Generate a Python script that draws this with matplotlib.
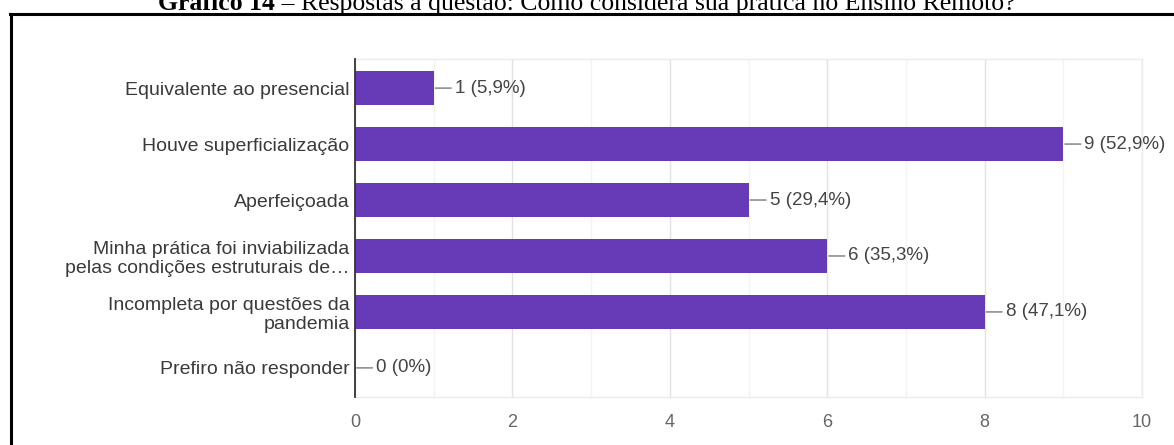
import matplotlib
matplotlib.use("Agg")
from matplotlib import pyplot as plt
from matplotlib.lines import Line2D
from matplotlib.ticker import MultipleLocator

# data
categories = [
    "Equivalente ao presencial",
    "Houve superficialização",
    "Aperfeiçoada",
    "Minha prática foi inviabilizada\npelas condições estruturais de…",
    "Incompleta por questões da\npandemia",
    "Prefiro não responder",
]
counts = [1, 9, 5, 6, 8, 0]
percents = ["5,9%", "52,9%", "29,4%", "35,3%", "47,1%", "0%"]
xticks = [0, 2, 4, 6, 8, 10]

title_bold = "Gráfico 14"
title_rest = " – Respostas à questão: Como considera sua prática no Ensino Remoto?"

W, H = 1174, 445
fig = plt.figure(figsize=(W / 100, H / 100), dpi=100)
fig.patch.set_facecolor("white")

ax = fig.add_axes([355 / W, 1 - 397 / H, (1142 - 355) / W, (397 - 59) / H])

ypos = list(range(len(categories)))
ax.barh(ypos, counts, height=0.61, color="#673ab7", zorder=3)

# value labels with the little connector line
for y, c, p in zip(ypos, counts, percents):
    ax.annotate(f"{c} ({p})", xy=(c, y), xytext=(21, 0), textcoords="offset pixels",
                va="center", ha="left", fontsize=13.5, color="#444444",
                family="Liberation Sans",
                arrowprops=dict(arrowstyle="-", color="#7a7a7a", lw=1,
                                shrinkA=0.5, shrinkB=1.2))

ax.set_xlim(0, 10)
ax.set_ylim(len(categories) - 0.48, -0.52)
ax.set_xticks(xticks)
ax.xaxis.set_minor_locator(MultipleLocator(1))
ax.set_yticks(ypos)
ax.set_yticklabels(categories, fontsize=14, color="#3a3a3a",
                   family="Liberation Sans", linespacing=1.12)
ax.tick_params(axis="y", length=0, pad=4)
ax.tick_params(axis="x", which="both", length=0, pad=12, labelsize=13,
               labelcolor="#666666")
for lab in ax.get_xticklabels():
    lab.set_family("Liberation Sans")

ax.grid(axis="x", which="major", color="#e2e2e2", lw=1, zorder=0)
ax.grid(axis="x", which="minor", color="#f3f3f3", lw=1, zorder=0)
for s in ["top", "bottom", "right"]:
    ax.spines[s].set_color("#ebebeb")
    ax.spines[s].set_linewidth(1)
ax.spines["left"].set_color("#333333")
ax.spines["left"].set_linewidth(1.3)
ax.spines["left"].set_zorder(4)

# frame around the chart (cut at right and bottom)
fig.add_artist(Line2D([11 / W, 11 / W], [0, 1 - 14 / H], color="black", lw=2.2,
                      transform=fig.transFigure))
fig.add_artist(Line2D([10 / W, 1], [1 - 14 / H, 1 - 14 / H], color="black", lw=2.2,
                      transform=fig.transFigure))

# title, half cut off at the top edge like in the source
renderer = fig.canvas.get_renderer()
ty = 1 - 10 / H
t1 = fig.text(0, ty, title_bold, fontsize=18.5, fontweight="bold",
              family="Liberation Serif", va="baseline", ha="left")
t2 = fig.text(0, ty, title_rest, fontsize=18.5, family="Liberation Serif",
              va="baseline", ha="left")
w1 = t1.get_window_extent(renderer).width
w2 = t2.get_window_extent(renderer).width
x0 = (W - (w1 + w2)) / 2
t1.set_x(x0 / W)
t2.set_x((x0 + w1) / W)

fig.savefig("out.png", dpi=100)
